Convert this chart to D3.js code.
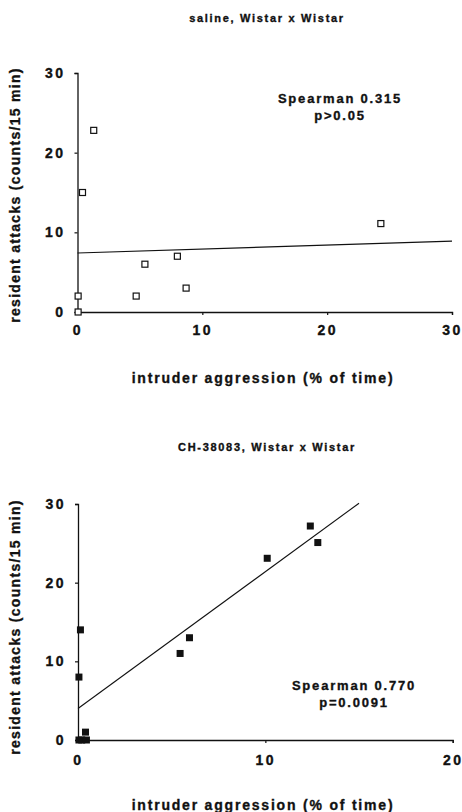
<!DOCTYPE html>
<html>
<head>
<meta charset="utf-8">
<script src="https://cdn.jsdelivr.net/npm/d3@7"></script>
<style>
  body { margin: 0; background: #fff; }
  svg text { font-family: "Liberation Sans", Arial, sans-serif; font-weight: bold; fill: #111; stroke: #111; stroke-width: 0.35px; }
</style>
</head>
<body>
<svg id="chart" width="462" height="812"></svg>
<script>
// saline panel
const salineX = [1.3, 0.4, 24.3, 8.0, 5.4, 8.7, 4.7, 0.05, 0.05];
const salineY = [22.8, 15, 11.1, 7, 6, 3, 2, 2, 0];
const salineFit = [[0, 7.4], [30, 8.9]];
const salineTicksX = [0, 10, 20, 30];
const salineTicksY = [0, 10, 20, 30];

// CH-38083 panel
const chX = [12.4, 12.8, 10.1, 5.95, 5.45, 0.13, 0.05, 0.4, 0.05, 0.2, 0.45];
const chY = [27.2, 25.1, 23.1, 13, 11, 14, 8, 1, 0, 0, 0];
const chFit = [[0, 4.0], [15, 30.1]];
const chTicksX = [0, 10, 20];
const chTicksY = [0, 10, 20, 30];

const svg = d3.select('#chart');

function drawPanel(opts) {
  const x = d3.scaleLinear().domain(opts.xDomain).range([opts.left, opts.right]);
  const y = d3.scaleLinear().domain([0, 30]).range([opts.bottom, opts.top]);
  const g = svg.append('g');

  // title
  g.append('text')
    .attr('x', 267).attr('y', opts.titleY)
    .attr('text-anchor', 'middle')
    .style('font-size', '11px').style('letter-spacing', '1.7px')
    .text(opts.title);

  // axes
  const xAxis = g.append('g')
    .attr('transform', `translate(0,${opts.bottom})`)
    .call(d3.axisBottom(x).tickValues(opts.ticksX).tickSize(3).tickPadding(opts.xPad).tickFormat(d3.format('d')));
  const yAxis = g.append('g')
    .attr('transform', `translate(${opts.left},0)`)
    .call(d3.axisLeft(y).tickValues(opts.ticksY).tickSize(3).tickPadding(9).tickFormat(d3.format('d')));
  [xAxis, yAxis].forEach(a => {
    a.select('.domain').attr('stroke', '#111').attr('stroke-width', 1.3);
    a.selectAll('.tick line').attr('stroke', '#111').attr('stroke-width', 1.2);
    a.selectAll('.tick text')
      .style('font-size', '14px').style('letter-spacing', '2.5px')
      .style('font-family', '"Liberation Sans", Arial, sans-serif').style('font-weight', 'bold')
      .attr('fill', '#111');
  });

  // axis labels
  g.append('text')
    .attr('x', 263).attr('y', opts.xLabelY)
    .attr('text-anchor', 'middle')
    .style('font-size', '14px').style('letter-spacing', '1.8px')
    .text('intruder aggression (% of time)');
  g.append('text')
    .attr('transform', `translate(20,${opts.yLabelC}) rotate(-90)`)
    .attr('text-anchor', 'middle')
    .style('font-size', '14px').style('letter-spacing', '1.3px')
    .text('resident attacks (counts/15 min)');

  // regression line
  g.append('path')
    .attr('d', d3.line().x(d => x(d[0])).y(d => y(d[1]))(opts.fit))
    .attr('fill', 'none').attr('stroke', '#111').attr('stroke-width', 1.1);

  // points
  const s = opts.filled ? 7 : 6;
  g.selectAll('rect.pt')
    .data(opts.xs.map((v, i) => [v, opts.ys[i]]))
    .join('rect')
    .attr('class', 'pt')
    .attr('x', d => x(d[0]) - s / 2)
    .attr('y', d => y(d[1]) - s / 2)
    .attr('width', s).attr('height', s)
    .attr('fill', opts.filled ? '#111' : '#fff')
    .attr('stroke', '#111').attr('stroke-width', opts.filled ? 0 : 1.2);

  // annotation
  const ann = g.append('text')
    .attr('text-anchor', 'middle')
    .style('font-size', '13px').style('letter-spacing', '1.8px');
  ann.append('tspan').attr('x', opts.annX).attr('y', opts.annY).text(opts.ann[0]);
  ann.append('tspan').attr('x', opts.annX).attr('y', opts.annY + 17).text(opts.ann[1]);
}

drawPanel({
  title: 'saline, Wistar x Wistar', titleY: 22,
  xDomain: [0, 30], left: 77.5, right: 452, top: 73, bottom: 312,
  ticksX: salineTicksX, ticksY: salineTicksY, xPad: 10,
  xs: salineX, ys: salineY, fit: salineFit, filled: false,
  xLabelY: 383, yLabelC: 195,
  ann: ['Spearman 0.315', 'p>0.05'], annX: 340, annY: 103
});

drawPanel({
  title: 'CH-38083, Wistar x Wistar', titleY: 451,
  xDomain: [0, 20], left: 78, right: 452.7, top: 504, bottom: 740,
  ticksX: chTicksX, ticksY: chTicksY, xPad: 12,
  xs: chX, ys: chY, fit: chFit, filled: true,
  xLabelY: 810, yLabelC: 627,
  ann: ['Spearman 0.770', 'p=0.0091'], annX: 354, annY: 690
});
</script>
</body>
</html>
